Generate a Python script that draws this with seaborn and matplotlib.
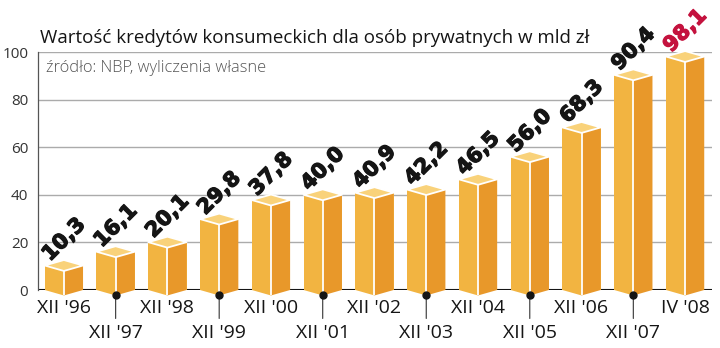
import matplotlib
matplotlib.use('Agg')
import matplotlib.pyplot as plt
import matplotlib.patheffects as pe
import seaborn as sns
import pandas as pd
from matplotlib.patches import Polygon

# ---- data ----
periods = ["XII '96", "XII '97", "XII '98", "XII '99", "XII '00", "XII '01", "XII '02",
           "XII '03", "XII '04", "XII '05", "XII '06", "XII '07", "IV '08"]
values = [10.3, 16.1, 20.1, 29.8, 37.8, 40.0, 40.9, 42.2, 46.5, 56.0, 68.3, 90.4, 98.1]
value_labels = ["10,3", "16,1", "20,1", "29,8", "37,8", "40,0", "40,9", "42,2",
                "46,5", "56,0", "68,3", "90,4", "98,1"]
y_ticks = [0, 20, 40, 60, 80, 100]
title = "Wartość kredytów konsumeckich dla osób prywatnych w mld zł"
subtitle = "źródło: NBP, wyliczenia własne"

# ---- style ----
LEFT = "#F2B441"
RIGHT = "#E8982A"
TOP = "#F9D27A"
HALF_W = 0.37
DEPTH = 2.3

sns.set_theme(style="white")
plt.rcParams['font.family'] = ['Open Sans', 'DejaVu Sans']

fig = plt.figure(figsize=(7.2, 3.48), dpi=100)
ax = fig.add_axes([38/720, 58/348, (712-38)/720, 238/348])

df = pd.DataFrame({"period": periods, "value": values})
sns.barplot(data=df, x="period", y="value", color=LEFT, saturation=1,
            width=2*HALF_W, edgecolor="none", linewidth=0, ax=ax, zorder=3)

for i, v in enumerate(values):
    # right face
    ax.add_patch(Polygon([(i, -DEPTH), (i+HALF_W, 0), (i+HALF_W, v), (i, v-DEPTH)],
                         closed=True, facecolor=RIGHT, edgecolor="none", zorder=4, clip_on=False))
    # left face bottom dip
    ax.add_patch(Polygon([(i-HALF_W, 0), (i, -DEPTH), (i, 0)],
                         closed=True, facecolor=LEFT, edgecolor="none", zorder=4, clip_on=False))
    # top
    ax.add_patch(Polygon([(i-HALF_W, v), (i, v-DEPTH), (i+HALF_W, v), (i, v+DEPTH)],
                         closed=True, facecolor=TOP, edgecolor="white", linewidth=1.3,
                         joinstyle="round", zorder=5, clip_on=False))
    # middle edge
    ax.plot([i, i], [-DEPTH, v-DEPTH], color="white", lw=1.3, zorder=5, clip_on=False,
            solid_capstyle="butt")
    color = "#C4123E" if i == len(values)-1 else "#151515"
    ax.annotate(value_labels[i], xy=(i, v), xytext=(0, 26), textcoords="offset pixels",
                rotation=45, rotation_mode="anchor", ha="center", va="center",
                fontsize=15, fontweight="bold", color=color, family=["DejaVu Sans"],
                zorder=6, annotation_clip=False,
                path_effects=[pe.withStroke(linewidth=0.9, foreground=color)])
    # x labels
    if i % 2 == 0:
        ax.annotate(periods[i], xy=(i, 0), xytext=(0, -18), textcoords="offset pixels",
                    ha="center", va="center", fontsize=14, color="#151515",
                    annotation_clip=False)
    else:
        ax.plot([i], [-DEPTH], marker="o", ms=5, color="#151515", zorder=6, clip_on=False)
        ax.annotate("", xy=(i, -DEPTH), xytext=(0, -23), textcoords="offset pixels",
                    arrowprops=dict(arrowstyle="-", color="#333333", lw=0.8,
                                    shrinkA=0, shrinkB=0), annotation_clip=False)
        ax.annotate(periods[i], xy=(i, 0), xytext=(0, -43), textcoords="offset pixels",
                    ha="center", va="center", fontsize=14, color="#151515",
                    annotation_clip=False)

ax.set_xlim(-0.5, 12.52)
ax.set_ylim(0, 100)
for t in y_ticks[1:]:
    ax.axhline(t, color="#ABABAB", lw=1, zorder=1)
ax.axhline(0, color="#151515", lw=1.5, zorder=1)
ax.set_yticks(y_ticks)
ax.set_yticklabels([str(t) for t in y_ticks], fontsize=11, color="#333333")
ax.tick_params(axis="y", length=0, pad=7)
ax.set_xticks([])
ax.set_xlabel("")
ax.set_ylabel("")
for s in ["top", "right", "bottom"]:
    ax.spines[s].set_visible(False)
ax.spines["left"].set_color("#555555")
ax.spines["left"].set_linewidth(0.9)
ax.set_facecolor("white")

fig.text(40/720, 1-43/348, title, fontsize=13.5, color="#151515", va="baseline", ha="left")
fig.text(46/720, 1-72/348, subtitle, fontsize=11.8, color="#555555", va="baseline",
         ha="left", fontweight="light")

fig.savefig("out.png", dpi=100, facecolor="white")
